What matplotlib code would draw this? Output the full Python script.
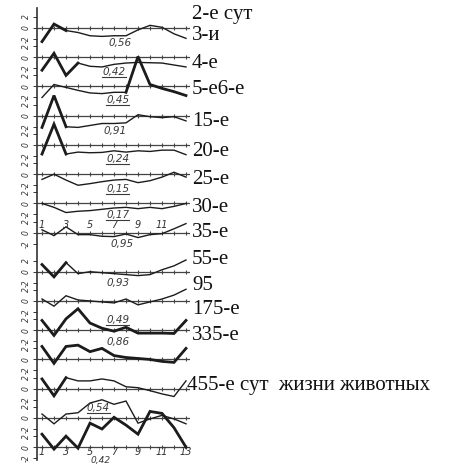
import numpy as np
import matplotlib
matplotlib.use("Agg")
import matplotlib.pyplot as plt
from matplotlib.lines import Line2D

days = np.arange(1, 14)

# curve values per panel (units of the small y scales)
p01 = [-2.1, 0.6, -0.4, -0.7, -1.2, -1.3, -1.2, -1.2, -0.3, 0.4, 0.1, -0.9, -1.6]
p02 = [-2.0, 0.6, -2.8, -0.9, -1.4, -1.5, -1.1, -0.9, -0.8, -0.85, -0.9, -1.2, -1.5]
p03 = [-1.7, 0.3, -0.15, -0.6, -1.0, -1.1, -0.9, -0.9, 4.6, 0.3, -0.3, -0.8, -1.4]
p04 = [-1.8, 3.1, -1.7, -1.8, -1.5, -1.2, -1.2, -1.1, 0.15, -0.15, -0.3, -0.15, -0.8]
p05 = [-1.4, 3.2, -1.4, -1.1, -1.2, -1.15, -0.9, -1.1, -0.9, -1.0, -0.8, -0.8, -1.5]
p06 = [-0.8, 0.0, -0.9, -1.7, -1.45, -1.15, -0.9, -0.8, -1.3, -1.0, -0.45, 0.3, -0.45]
p07 = [0.0, -0.6, -1.4, -1.2, -1.1, -0.9, -0.7, -0.6, -0.8, -0.6, -0.8, -0.45, 0.0]
p08 = [0.45, -0.45, 0.9, -0.3, -0.3, -0.55, -0.6, -0.2, -0.75, -0.3, -0.15, 0.6, 1.4]
p09 = [1.1, -0.8, 1.4, -0.3, 0.0, -0.15, -0.3, -0.45, -0.6, -0.45, 0.3, 0.9, 1.8]
p10 = [0.3, -0.8, 0.8, 0.15, 0.0, -0.15, -0.3, 0.3, -0.6, -0.15, 0.3, 0.9, 1.8]
p11 = [1.5, -0.8, 1.75, 3.3, 1.1, 0.3, -0.15, 0.45, -0.45, -0.45, -0.45, -0.5, 1.5]
p12 = [2.0, -0.6, 2.0, 2.2, 1.2, 1.7, 0.6, 0.3, 0.15, 0.0, -0.3, -0.45, 1.7]
p13 = [1.5, -1.1, 1.7, 1.2, 1.2, 1.5, 1.2, 0.3, 0.15, -0.3, -0.8, -1.2, 1.2]
p14 = [0.6, -0.9, 0.6, 0.8, 2.3, 2.8, 2.1, 2.6, -0.8, -0.15, 0.4, -0.15, -0.9]
p15 = [2.0, -0.3, 1.7, -0.15, 3.7, 2.8, 4.6, 3.4, 2.0, 5.5, 5.2, 3.0, 0.0]
panels = [p01, p02, p03, p04, p05, p06, p07, p08, p09, p10, p11, p12, p13, p14, p15]

# stretches of each curve drawn with the heavy pen (point index ranges)
heavy = [[(0, 2)], [(0, 3)], [(7, 12)], [(0, 2)], [(0, 2)], [], [], [],
         [(0, 2)], [], [(0, 12)], [(0, 12)], [(0, 2)], [], [(0, 12)]]

corr = ["0,56", "0,42", "0,45", "0,91", "0,24", "0,15", "0,17", "0,95",
        "0,93", "0,49", "0,86", "0,54", "0,42"]
corr_panel = [0, 1, 2, 3, 4, 5, 6, 7, 8, 9, 10, 12, 14]
corr_under = [False, True, True, False, True, True, True, False,
              False, True, False, True, False]
corr_x = [7.5, 7.0, 7.3, 7.1, 7.3, 7.3, 7.3, 7.7, 7.3, 7.3, 7.3, 5.7, 5.9]
corr_dy = [2.3, 2.3, 2.15, 2.3, 2.15, 2.3, 1.85, 1.7, 1.7, 2.9, 1.85, 2.9, 2.05]

day_labels = ["2-е сут", "3-и", "4-е", "5-е6-е", "15-е", "20-е", "25-е", "30-е",
              "35-е", "55-е", "95", "175-е", "335-е",
              "455-е сут  жизни животных"]
label_py = [14, 36, 63, 89, 121, 151, 180, 207, 232, 259, 285, 310, 336, 385]
label_px = [192] * 13 + [187]

ink = "#1c1c1c"
px = 6.5  # pixels per unit of the small scales

# panel zero lines (units from top of picture)
base = np.array([4.3 + 4.5 * k + (1.5 if k >= 8 else 0) for k in range(15)])

fig = plt.figure(figsize=(4.6, 4.65), dpi=100)
ax = fig.add_axes([37 / 460, 5 / 465, 153 / 460, 452 / 465])
ax.set_xlim(1 - 5 / 12, 1 + 148 / 12)
ax.set_ylim(-460 / px, -8 / px)

for k, vals in enumerate(panels):
    y0 = -base[k]
    ax.axhline(y0, color="#444444", lw=0.9)
    ax.plot(days, np.full(len(days), y0), ls="none", marker="|", ms=3,
            mew=0.8, color="#444444")
    yy = y0 + np.array(vals)
    ax.plot(days, yy, color=ink, lw=1.0, solid_joinstyle="miter", clip_on=False)
    for i0, i1 in heavy[k]:
        ax.plot(days[i0:i1 + 1], yy[i0:i1 + 1], color=ink, lw=2.0,
                solid_joinstyle="miter", clip_on=False)

# small y scales on the left axis
ticks, labs = [], []
for k in range(15):
    ticks += [-base[k] + 1.7, -base[k], -base[k] - 1.7]
    labs += ["2", "0", "-2"]
ax.set_yticks(ticks)
ax.set_yticklabels(labs, fontsize=5.5, style="italic", rotation=90,
                   va="center", color="#333333")
ax.tick_params(axis="y", length=3, width=0.7, pad=1.5, colors="#333333")
ax.set_xticks([])
for s in ["top", "right", "bottom"]:
    ax.spines[s].set_visible(False)
ax.spines["left"].set_linewidth(1.2)
ax.spines["left"].set_color("#333333")

# day numbers
for d in days[::2]:
    if d < 13:
        ax.text(d, -base[7] + 1.15, str(d), fontsize=7, style="italic",
                ha="center", va="center", color="#333333")
    ax.text(d, -base[14] - 0.75, str(d), fontsize=7, style="italic",
            ha="center", va="center", color="#333333")

# correlation coefficients
corr_texts = []
for i, (s, k, u, cx, dy) in enumerate(zip(corr, corr_panel, corr_under,
                                           corr_x, corr_dy)):
    fs = 6.5 if i == len(corr) - 1 else 7.5
    t = ax.text(cx, -base[k] - dy, s, fontsize=fs, style="italic",
                ha="center", va="center", color="#3a3a3a", clip_on=False)
    corr_texts.append((t, u))

for s, lx, py in zip(day_labels, label_px, label_py):
    fig.text(lx / 460, 1 - py / 465, s, fontsize=15,
             family="Liberation Serif", ha="left", va="center", color="#111111")

fig.canvas.draw()
for t, u in corr_texts:
    if u:
        bb = t.get_window_extent()
        fig.add_artist(Line2D([bb.x0, bb.x1], [bb.y0, bb.y0], transform=None,
                              color="#3a3a3a", lw=0.8))

fig.savefig("out.png", dpi=100, facecolor="white")
